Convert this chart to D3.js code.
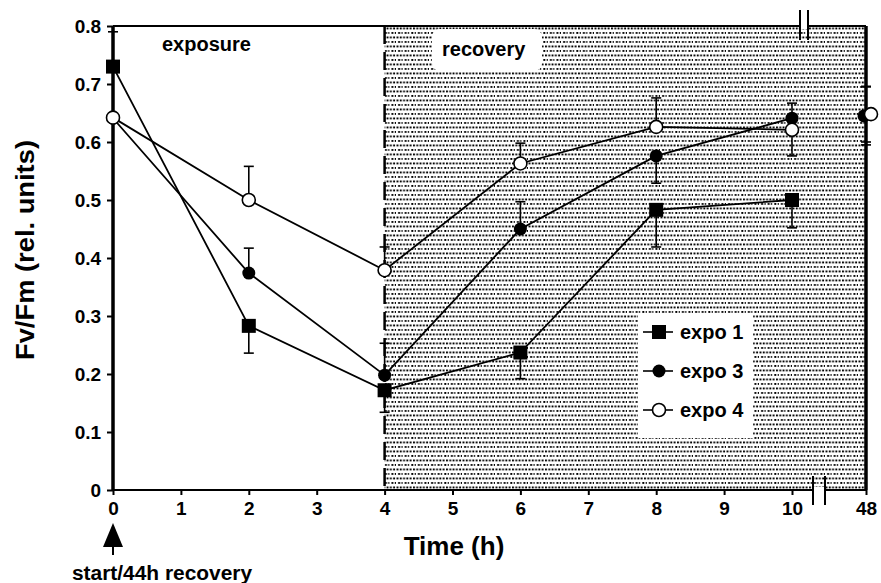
<!DOCTYPE html>
<html><head><meta charset="utf-8">
<script src="https://cdn.jsdelivr.net/npm/d3@7"></script>
<style>body{margin:0;background:#fff;} svg{display:block;font-family:"Liberation Sans",Arial,sans-serif;}</style>
</head><body>
<svg id="c" width="881" height="583"></svg>
<script>
const times = [0, 2, 4, 6, 8, 10, 48];
const xTicks = [0, 1, 2, 3, 4, 5, 6, 7, 8, 9, 10, 48];
const yTicks = [0, 0.1, 0.2, 0.3, 0.4, 0.5, 0.6, 0.7, 0.8];
const expo1 = [0.73, 0.283, 0.172, 0.237, 0.483, 0.50, null];
const expo1Err = [0.06, -0.047, -0.038, -0.045, -0.064, -0.048, 0];
const expo3 = [0.641, 0.374, 0.198, 0.45, 0.576, 0.641, 0.645];
const expo3Err = [0, 0.043, 0.055, 0.047, -0.047, 0.026, 0.05];
const expo4 = [0.642, 0.50, 0.379, 0.563, 0.626, 0.621, 0.648];
const expo4Err = [0, 0.058, 0.04, 0.035, 0.05, -0.045, -0.048];
const seriesNames = ["expo 1", "expo 3", "expo 4"];

const svg = d3.select("#c");
const x = d3.scaleLinear().domain([0, 10, 48]).range([113, 792, 866]);
const y = d3.scaleLinear().domain([0, 0.8]).range([490, 26]);

// shaded recovery region
const defs = svg.append("defs");
const pat = defs.append("pattern").attr("id","dots").attr("patternUnits","userSpaceOnUse").attr("width",6.6).attr("height",9);
pat.append("rect").attr("width",6.6).attr("height",9).attr("fill","#fff");
[[0.5,0.5],[3.8,0.5],[2.15,5],[5.45,5]].forEach(([px,py]) =>
  pat.append("rect").attr("x",px).attr("y",py).attr("width",1.9).attr("height",1.9).attr("fill","#000"));
svg.append("rect").attr("x", x(4)).attr("y", y(0.8)).attr("width", x(48) - x(4)).attr("height", y(0) - y(0.8)).attr("fill","url(#dots)");

// recovery label box
svg.append("rect").attr("x", 432).attr("y", 29).attr("width", 110).attr("height", 42).attr("rx", 8).attr("fill","#fff");
svg.append("text").attr("x", 442).attr("y", 56).attr("font-size", 20).attr("font-weight","bold").text("recovery");
svg.append("text").attr("x", 162).attr("y", 51).attr("font-size", 20).attr("font-weight","bold").text("exposure");

// dashed line at 4 h
svg.append("line").attr("x1", x(4)).attr("x2", x(4)).attr("y1", y(0.8)).attr("y2", y(0))
  .attr("stroke","#000").attr("stroke-width",2.5).attr("stroke-dasharray","18,8");

// frame
svg.append("line").attr("x1", x(0)).attr("x2", x(48)).attr("y1", y(0.8)).attr("y2", y(0.8)).attr("stroke","#000").attr("stroke-width",2);
svg.append("line").attr("x1", x(48)).attr("x2", x(48)).attr("y1", y(0.8)).attr("y2", y(0)).attr("stroke","#000").attr("stroke-width",3.5);

// axes
const yAxis = d3.axisLeft(y).tickValues(yTicks).tickSize(6).tickFormat(d => d === 0 ? "0" : d3.format(".1f")(d));
const gy = svg.append("g").attr("transform", `translate(${x(0)},0)`).call(yAxis);
const xAxis = d3.axisBottom(x).tickValues(xTicks).tickSize(5).tickFormat(d3.format("d"));
const gx = svg.append("g").attr("transform", `translate(0,${y(0)})`).call(xAxis);
[gy, gx].forEach(g => {
  g.selectAll("text").attr("font-size", 19).attr("font-weight","bold").attr("fill","#000").attr("font-family","Liberation Sans, Arial, sans-serif");
  g.selectAll(".tick line").attr("stroke","#000").attr("stroke-width",2);
});
gy.select(".domain").attr("stroke-width",3.5).attr("d", `M0,${y(0)}V${y(0.8)}`);
gx.select(".domain").attr("stroke-width",2).attr("d", `M${x(0)},0H${x(48)}`);
gx.selectAll(".tick text").attr("dy","0.9em");
gy.selectAll(".tick text").attr("dx","-0.15em");

// axis breaks
const brk = svg.append("g");
brk.append("rect").attr("x", 813).attr("y", y(0) - 3).attr("width", 12).attr("height", 6).attr("fill", "#fff");
[813, 825].forEach(bx => brk.append("line").attr("x1", bx).attr("x2", bx).attr("y1", y(0) - 14).attr("y2", y(0) + 15).attr("stroke","#000").attr("stroke-width",2));
brk.append("rect").attr("x", 800).attr("y", y(0.8) - 3).attr("width", 8).attr("height", 6).attr("fill", "#fff");
[800, 808].forEach(bx => brk.append("line").attr("x1", bx).attr("x2", bx).attr("y1", 10).attr("y2", 40).attr("stroke","#000").attr("stroke-width",2));

// series
const series = [
  {vals: expo1, err: expo1Err, type: "square"},
  {vals: expo3, err: expo3Err, type: "filled"},
  {vals: expo4, err: expo4Err, type: "open"}
];
const line = d3.line().x((d,i) => x(times[i])).y(d => y(d));

series.forEach(s => {
  const g = svg.append("g");
  g.append("path").datum(s.vals.slice(0, 6)).attr("d", line).attr("fill","none").attr("stroke","#000").attr("stroke-width",1.8);
  s.vals.forEach((v, i) => {
    const e = s.err[i];
    if (!e || v === null) return;
    const cx = x(times[i]);
    const y1 = y(v), y2 = y(v + e);
    g.append("line").attr("x1", cx).attr("x2", cx).attr("y1", y1).attr("y2", y2).attr("stroke","#000").attr("stroke-width",1.6);
    g.append("line").attr("x1", cx - 5).attr("x2", cx + 5).attr("y1", y2).attr("y2", y2).attr("stroke","#000").attr("stroke-width",1.6);
    if (i === 6) {
      g.append("line").attr("x1", cx).attr("x2", cx).attr("y1", y1).attr("y2", y(v - e)).attr("stroke","#000").attr("stroke-width",1.6);
      g.append("line").attr("x1", cx - 5).attr("x2", cx + 5).attr("y1", y(v - e)).attr("y2", y(v - e)).attr("stroke","#000").attr("stroke-width",1.6);
    }
  });
});

function marker(g, type, cx, cy) {
  if (type === "square") {
    g.append("rect").attr("x", cx - 7).attr("y", cy - 7).attr("width", 14).attr("height", 14).attr("fill","#000");
  } else if (type === "filled") {
    g.append("circle").attr("cx", cx).attr("cy", cy).attr("r", 6.5).attr("fill","#000");
  } else {
    g.append("circle").attr("cx", cx).attr("cy", cy).attr("r", 6.5).attr("fill","#fff").attr("stroke","#000").attr("stroke-width",1.6);
  }
}
series.forEach(s => {
  const g = svg.append("g");
  s.vals.forEach((v, i) => {
    if (v === null) return;
    const dx = i === 6 ? (s.type === "open" ? 5 : -2) : 0;
    marker(g, s.type, x(times[i]) + dx, y(v));
  });
});

// legend
const lg = svg.append("g");
lg.append("rect").attr("x", 638).attr("y", 313).attr("width", 115).attr("height", 125).attr("fill","#fff");
seriesNames.forEach((n, i) => {
  const ly = 332 + i * 39;
  lg.append("line").attr("x1", 643).attr("x2", 673).attr("y1", ly).attr("y2", ly).attr("stroke","#000").attr("stroke-width",1.6);
  marker(lg, series[i].type, 659, ly);
  lg.append("text").attr("x", 680).attr("y", ly + 7).attr("font-size", 20).attr("font-weight","bold").text(n);
});

// axis titles
svg.append("text").attr("x", 454).attr("y", 555).attr("text-anchor","middle").attr("font-size", 26).attr("font-weight","bold").text("Time (h)");
svg.append("text").attr("transform", "translate(34,250) rotate(-90)").attr("text-anchor","middle").attr("font-size", 26).attr("font-weight","bold")
  .attr("textLength", 220).attr("lengthAdjust","spacingAndGlyphs").text("Fv/Fm (rel. units)");

// start arrow
svg.append("path").attr("d", `M${x(0)},523 L${x(0)-10},547 L${x(0)+10},547 Z`).attr("fill","#000");
svg.append("line").attr("x1", x(0)).attr("x2", x(0)).attr("y1", 545).attr("y2", 555).attr("stroke","#000").attr("stroke-width",2);
svg.append("text").attr("x", 72).attr("y", 580).attr("font-size", 20).attr("font-weight","bold").attr("textLength",180).attr("lengthAdjust","spacingAndGlyphs").text("start/44h recovery");
</script>
</body></html>
